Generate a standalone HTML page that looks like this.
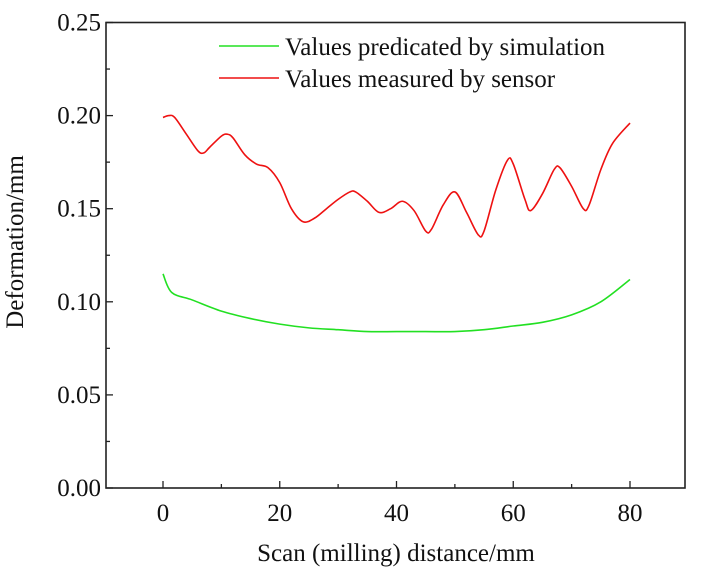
<!DOCTYPE html>
<html><head><meta charset="utf-8"><style>
body{margin:0;background:#fff;}
svg{display:block;font-family:"Liberation Serif",serif;}
</style></head><body>
<svg id="chart" width="704" height="573"></svg>
<script>
const xTicks=[0,20,40,60,80];
const yTicks=[0.00,0.05,0.10,0.15,0.20,0.25];
const yTickLabels=["0.00","0.05","0.10","0.15","0.20","0.25"];
const measuredX=[0,1,2,4,6,7,8,10,11,12,14,16,18,20,22,24,26,28,30,32,33,35,37,39,41,43,45,46,48,50,52,54,55,57,59,60,62,63,65,67,68,70,72,73,75,77,80];
const measuredY=[0.199,0.200,0.199,0.190,0.181,0.180,0.183,0.189,0.190,0.188,0.179,0.174,0.172,0.164,0.150,0.143,0.145,0.150,0.155,0.159,0.159,0.154,0.148,0.150,0.154,0.149,0.138,0.139,0.152,0.159,0.148,0.136,0.138,0.160,0.176,0.174,0.155,0.149,0.158,0.171,0.172,0.162,0.150,0.152,0.171,0.185,0.196];
const simX=[0,1.5,5,10,15,20,25,30,35,40,45,50,55,60,65,70,75,80];
const simY=[0.115,0.105,0.101,0.095,0.091,0.088,0.086,0.085,0.084,0.084,0.084,0.084,0.085,0.087,0.089,0.093,0.100,0.112];

const L=106,R=685,T=22.5,B=488;
const X0=163,X80=630;
const sx=v=>X0+(v/80)*(X80-X0);
const sy=v=>B-(v/0.25)*(B-T);
const NS="http://www.w3.org/2000/svg";
const svg=document.getElementById('chart');
function mk(tag,attrs,parent){const e=document.createElementNS(NS,tag);for(const k in attrs)e.setAttribute(k,attrs[k]);(parent||svg).appendChild(e);return e;}

const frame=mk('rect',{x:L,y:T,width:R-L,height:B-T,fill:'none',stroke:'#222','stroke-width':1.6});



for(let v=0;v<=80;v+=10){
  const major=v%20===0;
  const t=mk('line',{x1:sx(v),x2:sx(v),y1:B,y2:B-(major?7:4),stroke:'#222','stroke-width':1.3});
  
  
}
xTicks.forEach(v=>{
  const t=mk('text',{x:sx(v),y:B+33,'text-anchor':'middle','font-size':25,fill:'#111'});
  t.textContent=v;
  
  
});
for(let i=0;i<=10;i++){
  const v=i*0.025;const major=i%2===0;
  const t=mk('line',{x1:L,x2:L+(major?7:4),y1:sy(v),y2:sy(v),stroke:'#222','stroke-width':1.3});
  
  
}
yTicks.forEach((v,i)=>{
  const t=mk('text',{x:L-5,y:sy(v)+8,'text-anchor':'end','font-size':25,fill:'#111'});
  t.textContent=yTickLabels[i];
  
  
});
const xt=mk('text',{x:396,y:561,'text-anchor':'middle','font-size':25,fill:'#111'});
xt.textContent='Scan (milling) distance/mm';


const yt=mk('text',{x:0,y:0,'text-anchor':'middle','font-size':25,fill:'#111',transform:'translate(23,242) rotate(-90)'});
yt.textContent='Deformation/mm';



function smoothPath(xs,ys){
  const p=xs.map((x,i)=>[sx(x),sy(ys[i])]);
  let d=`M${p[0][0]},${p[0][1]}`;
  for(let i=0;i<p.length-1;i++){
    const p0=p[Math.max(0,i-1)],p1=p[i],p2=p[i+1],p3=p[Math.min(p.length-1,i+2)];
    const c1=[p1[0]+(p2[0]-p0[0])/6,p1[1]+(p2[1]-p0[1])/6];
    const c2=[p2[0]-(p3[0]-p1[0])/6,p2[1]-(p3[1]-p1[1])/6];
    d+=` C${c1[0]},${c1[1]} ${c2[0]},${c2[1]} ${p2[0]},${p2[1]}`;
  }
  return d;
}
const g=mk('path',{d:smoothPath(simX,simY),fill:'none',stroke:'#22e022','stroke-width':1.6});


const r=mk('path',{d:smoothPath(measuredX,measuredY),fill:'none',stroke:'#ee1111','stroke-width':1.6});



const lg=mk('g',{});


const l1=mk('line',{x1:219,x2:279,y1:46,y2:46,stroke:'#22e022','stroke-width':1.6},lg);


const t1=mk('text',{x:285,y:55,'font-size':25,fill:'#111'},lg);
t1.textContent='Values predicated by simulation';


const l2=mk('line',{x1:219,x2:279,y1:78,y2:78,stroke:'#ee1111','stroke-width':1.6},lg);


const t2=mk('text',{x:285,y:87,'font-size':25,fill:'#111'},lg);
t2.textContent='Values measured by sensor';


</script>
</body></html>
